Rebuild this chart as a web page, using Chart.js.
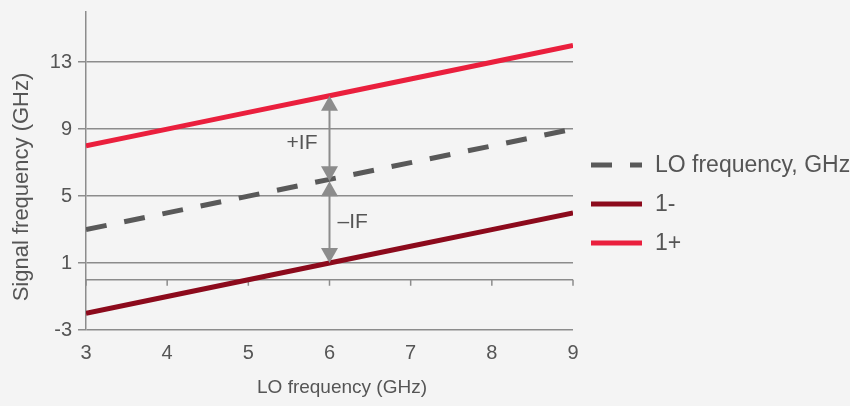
<!DOCTYPE html>
<html>
<head>
<meta charset="utf-8">
<script src="https://cdn.jsdelivr.net/npm/chart.js@4/dist/chart.umd.min.js"></script>
<style>
  html, body { margin: 0; padding: 0; background: #f4f4f4; }
  #wrap { width: 850px; height: 406px; position: relative; }
</style>
</head>
<body>
<div id="wrap"><canvas id="chart"></canvas></div>
<script>
const xValues = [3, 4, 5, 6, 7, 8, 9];
const loFreq = [3, 4, 5, 6, 7, 8, 9];
const lowerSide = [-2, -1, 0, 1, 2, 3, 4];
const upperSide = [8, 9, 10, 11, 12, 13, 14];
const yTicks = [-3, 1, 5, 9, 13];
const seriesNames = ['LO frequency, GHz', '1-', '1+'];
const ifLabels = ['+IF', '\u2013IF'];
const markerX = 6;

const FONT = "'Liberation Sans', Arial, Helvetica, sans-serif";
const TEXT = '#555555';
const GRID = '#8c8c8c';
const ARROW = '#8c8c8c';

const pts = (ys) => ys.map((y, i) => ({ x: xValues[i], y }));

// zero line with small ticks, drawn under the series
const zeroLine = {
  id: 'zeroLine',
  beforeDatasetsDraw(chart) {
    const { ctx, chartArea: a, scales: { x, y } } = chart;
    const y0 = y.getPixelForValue(0);
    ctx.save();
    ctx.strokeStyle = GRID;
    ctx.lineWidth = 1.5;
    ctx.beginPath();
    ctx.moveTo(a.left, y0);
    ctx.lineTo(a.right, y0);
    xValues.forEach((v) => {
      const px = x.getPixelForValue(v);
      ctx.moveTo(px, y0);
      ctx.lineTo(px, y0 + 6);
    });
    ctx.stroke();
    ctx.restore();
  },
};

// IF arrows, axis titles and legend
const extras = {
  id: 'extras',
  afterDatasetsDraw(chart) {
    const { ctx, chartArea: a, scales: { x, y } } = chart;
    const i = xValues.indexOf(markerX);
    const px = x.getPixelForValue(markerX);
    const yLo = y.getPixelForValue(loFreq[i]) + 2;
    const yUp = y.getPixelForValue(upperSide[i]);
    const yDn = y.getPixelForValue(lowerSide[i]);

    const head = (tipY, dir) => {
      ctx.beginPath();
      ctx.moveTo(px, tipY);
      ctx.lineTo(px - 8.5, tipY + dir * 15);
      ctx.lineTo(px + 8.5, tipY + dir * 15);
      ctx.closePath();
      ctx.fill();
    };
    const arrow = (y1, y2) => {
      ctx.beginPath();
      ctx.moveTo(px, y1 + 12);
      ctx.lineTo(px, y2 - 12);
      ctx.stroke();
      head(y1, 1);
      head(y2, -1);
    };

    ctx.save();
    ctx.strokeStyle = ARROW;
    ctx.fillStyle = ARROW;
    ctx.lineWidth = 2;
    arrow(yUp, yLo);
    arrow(yLo, yDn);

    ctx.fillStyle = TEXT;
    ctx.font = `21px ${FONT}`;
    ctx.textBaseline = 'middle';
    ctx.textAlign = 'right';
    ctx.fillText(ifLabels[0], px - 12, (yUp + yLo) / 2 + 5);
    ctx.textAlign = 'left';
    ctx.fillText(ifLabels[1], px + 8, (yLo + yDn) / 2);

    // axis titles
    ctx.font = `19px ${FONT}`;
    ctx.textAlign = 'center';
    ctx.fillText('LO frequency (GHz)', a.left + 256, 388);
    ctx.save();
    ctx.font = `22px ${FONT}`;
    ctx.translate(22, (a.top + a.bottom) / 2 + 16);
    ctx.rotate(-Math.PI / 2);
    ctx.fillText('Signal frequency (GHz)', 0, 0);
    ctx.restore();

    // legend
    const lx = a.right + 18;
    const rows = [165, 204, 243];
    chart.data.datasets.forEach((ds, k) => {
      ctx.save();
      ctx.strokeStyle = ds.borderColor;
      ctx.lineWidth = 5;
      ctx.setLineDash(ds.borderDash || []);
      ctx.beginPath();
      ctx.moveTo(lx, rows[k]);
      ctx.lineTo(lx + 51, rows[k]);
      ctx.stroke();
      ctx.restore();
      ctx.font = `23px ${FONT}`;
      ctx.textAlign = 'left';
      ctx.fillText(ds.label, lx + 64, rows[k] + 1);
    });
    ctx.restore();
  },
};

new Chart(document.getElementById('chart'), {
  type: 'line',
  data: {
    datasets: [
      {
        label: seriesNames[0],
        data: pts(loFreq),
        borderColor: '#595959',
        borderWidth: 5,
        borderDash: [21, 18],
        pointRadius: 0,
        tension: 0,
      },
      {
        label: seriesNames[1],
        data: pts(lowerSide),
        borderColor: '#8c0a1c',
        borderWidth: 5,
        pointRadius: 0,
        tension: 0,
      },
      {
        label: seriesNames[2],
        data: pts(upperSide),
        borderColor: '#ea1f3d',
        borderWidth: 5,
        pointRadius: 0,
        tension: 0,
      },
    ],
  },
  options: {
    responsive: true,
    maintainAspectRatio: false,
    animation: false,
    layout: { padding: { top: 12, right: 277, left: 0, bottom: 0 } },
    plugins: { legend: { display: false }, tooltip: { enabled: false } },
    scales: {
      x: {
        type: 'linear',
        min: 3,
        max: 9,
        ticks: { stepSize: 1, padding: 11, color: TEXT, font: { family: FONT, size: 20 } },
        grid: { display: false, drawTicks: false },
        border: { display: false },
        afterFit: (s) => { s.height = 76; },
      },
      y: {
        min: -3,
        max: 16,
        afterBuildTicks: (s) => { s.ticks = yTicks.map((v) => ({ value: v })); },
        ticks: { padding: 6, color: TEXT, font: { family: FONT, size: 20 } },
        grid: { color: GRID, lineWidth: 1.5, tickLength: 8 },
        border: { color: GRID, width: 1.5 },
        afterFit: (s) => {
          s.width = 86;
          s.paddingTop = 0;
          s.paddingBottom = 0;
        },
      },
    },
  },
  plugins: [zeroLine, extras],
});
</script>
</body>
</html>
